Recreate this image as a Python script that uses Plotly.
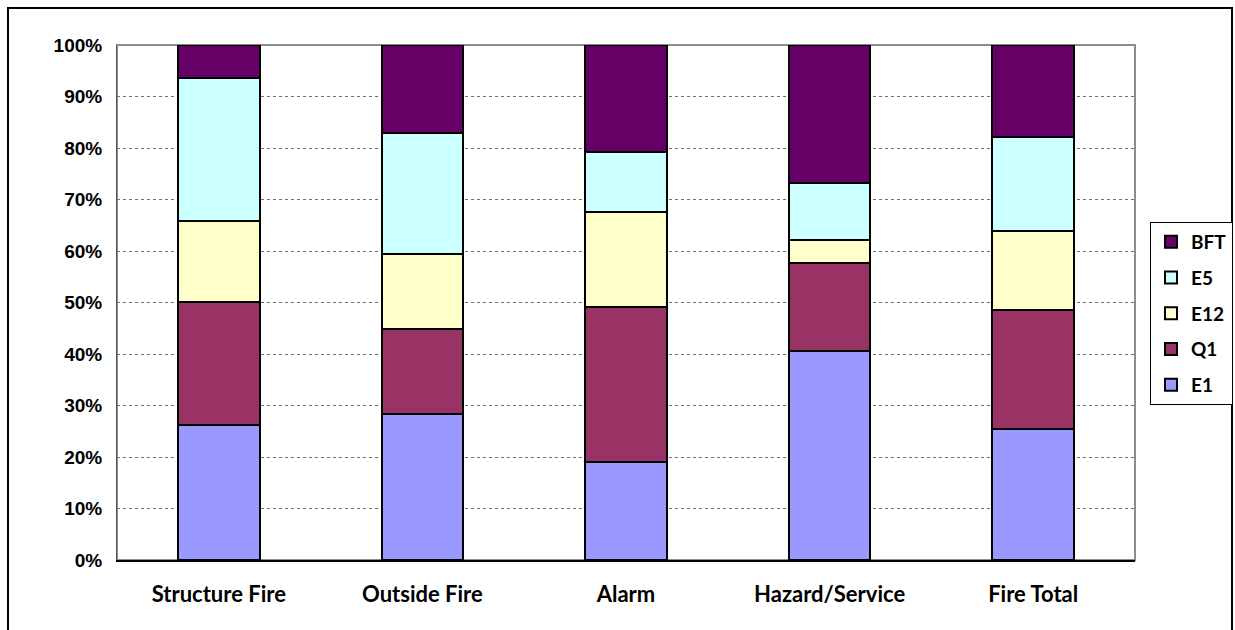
import plotly.graph_objects as go

categories = ["Structure Fire", "Outside Fire", "Alarm", "Hazard/Service", "Fire Total"]

# Share of responses per unit (percent of each category)
e1 = [26.3, 28.3, 19.0, 40.5, 25.4]
q1 = [23.8, 16.5, 30.1, 17.2, 23.2]
e12 = [15.7, 14.7, 18.5, 4.5, 15.2]
e5 = [27.7, 23.4, 11.7, 11.1, 18.4]
bft = [6.5, 17.1, 20.7, 26.7, 17.8]

series = [
    ("E1", e1, "#9999FF"),
    ("Q1", q1, "#993366"),
    ("E12", e12, "#FFFFCC"),
    ("E5", e5, "#CCFFFF"),
    ("BFT", bft, "#660066"),
]

fig = go.Figure()
for i, (name, vals, color) in enumerate(series):
    fig.add_trace(go.Bar(
        name=name,
        x=categories,
        y=vals,
        marker=dict(color=color, line=dict(color="#000000", width=2)),
        legendgroup=name,
        legendrank=len(series) - i,  # top of the stack listed first
    ))

W, H = 1235, 630
fig.update_layout(
    width=W,
    height=H,
    barmode="stack",
    barnorm="percent",
    bargap=0.6,
    paper_bgcolor="white",
    plot_bgcolor="white",
    margin=dict(l=117, r=100, t=45, b=70),
    font=dict(family="Liberation Sans", color="#000000"),
    xaxis=dict(
        showline=True,
        linecolor="#000000",
        linewidth=2,
        mirror=False,
        ticks="",
        tickfont=dict(family="Lato", size=22, color="#000000", weight="bold"),
        ticklabelstandoff=14,
    ),
    yaxis=dict(
        range=[0, 100],
        dtick=10,
        ticksuffix="%",
        showgrid=True,
        gridcolor="#707070",
        griddash="dot",
        gridwidth=1,
        showline=True,
        linecolor="#555555",
        linewidth=1,
        zeroline=False,
        ticks="",
        tickfont=dict(family="Liberation Sans", size=19, color="#000000", weight="bold"),
        ticklabelstandoff=10,
    ),
    legend=dict(
        x=1150 / W,
        y=1 - 222 / H,
        xref="container",
        yref="container",
        xanchor="left",
        yanchor="top",
        traceorder="grouped",
        tracegroupgap=8,
        bordercolor="#000000",
        borderwidth=1,
        bgcolor="white",
        font=dict(family="Lato", size=19, color="#000000", weight="bold"),
        itemwidth=30,
    ),
    shapes=[
        # plot-area outline
        dict(type="rect", xref="paper", yref="paper", x0=0, x1=1, y0=0, y1=1,
             line=dict(color="#8c8c8c", width=2), layer="below"),
        # outer chart frame
        dict(type="rect", xref="paper", yref="paper",
             x0=(8 - 117) / (W - 217), x1=(1232 - 117) / (W - 217),
             y0=-0.3, y1=1 + (45 - 8) / (H - 115),
             line=dict(color="#000000", width=2)),
    ],
)

fig.write_html("out.html")
